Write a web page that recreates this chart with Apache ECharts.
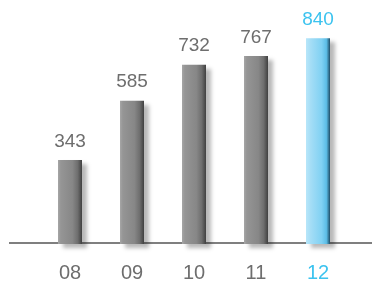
<!DOCTYPE html>
<html><head><meta charset="utf-8">
<script src="https://cdn.jsdelivr.net/npm/echarts@6/dist/echarts.min.js"></script>
<style>html,body{margin:0;padding:0;background:#fff}#c{width:372px;height:285px}</style>
</head><body><div id="c"></div>
<script>
const categories = ['08', '09', '10', '11', '12'];
const values = [343, 585, 732, 767, 840];
const highlightIndex = 4;

const grayFill = new echarts.graphic.LinearGradient(0, 0, 1, 0, [
  {offset: 0, color: '#a6a6a6'},
  {offset: 0.12, color: '#959595'},
  {offset: 0.6, color: '#878787'},
  {offset: 0.82, color: '#6e6e6e'},
  {offset: 1, color: '#404040'}
]);
const blueFill = new echarts.graphic.LinearGradient(0, 0, 1, 0, [
  {offset: 0, color: '#b8e6f9'},
  {offset: 0.2, color: '#a4ddf6'},
  {offset: 0.65, color: '#80d1f3'},
  {offset: 0.85, color: '#5cbde6'},
  {offset: 1, color: '#1f4d66'}
]);

const font = 'Liberation Sans, Arial, sans-serif';
const chart = echarts.init(document.getElementById('c'), null, {renderer: 'canvas'});
chart.setOption({
  animation: false,
  grid: {left: 39, right: 23, top: 37, bottom: 41},
  xAxis: {
    type: 'category', data: categories,
    axisLine: {show: false}, axisTick: {show: false},
    axisLabel: {
      margin: 19, fontSize: 20, fontFamily: font,
      color: function (v, i) { return i === highlightIndex ? '#3cc3ef' : '#6e6e6e'; }
    }
  },
  yAxis: {type: 'value', min: 0, max: 845, show: false, splitLine: {show: false}},
  graphic: [{
    type: 'line', z: 1,
    shape: {x1: 9, y1: 243, x2: 372, y2: 243},
    style: {stroke: '#555', lineWidth: 1.5}
  }],
  series: [{
    type: 'bar', barWidth: 24, z: 2,
    data: values.map((v, i) => ({
      value: v,
      itemStyle: {color: i === highlightIndex ? blueFill : grayFill},
      label: {color: i === highlightIndex ? '#3cc3ef' : '#6e6e6e'}
    })),
    itemStyle: {
      shadowColor: 'rgba(0,0,0,0.28)', shadowBlur: 4, shadowOffsetX: 5, shadowOffsetY: 4
    },
    label: {
      show: true, position: 'top', distance: 9, fontSize: 19, fontFamily: font
    }
  }]
});
</script></body></html>
